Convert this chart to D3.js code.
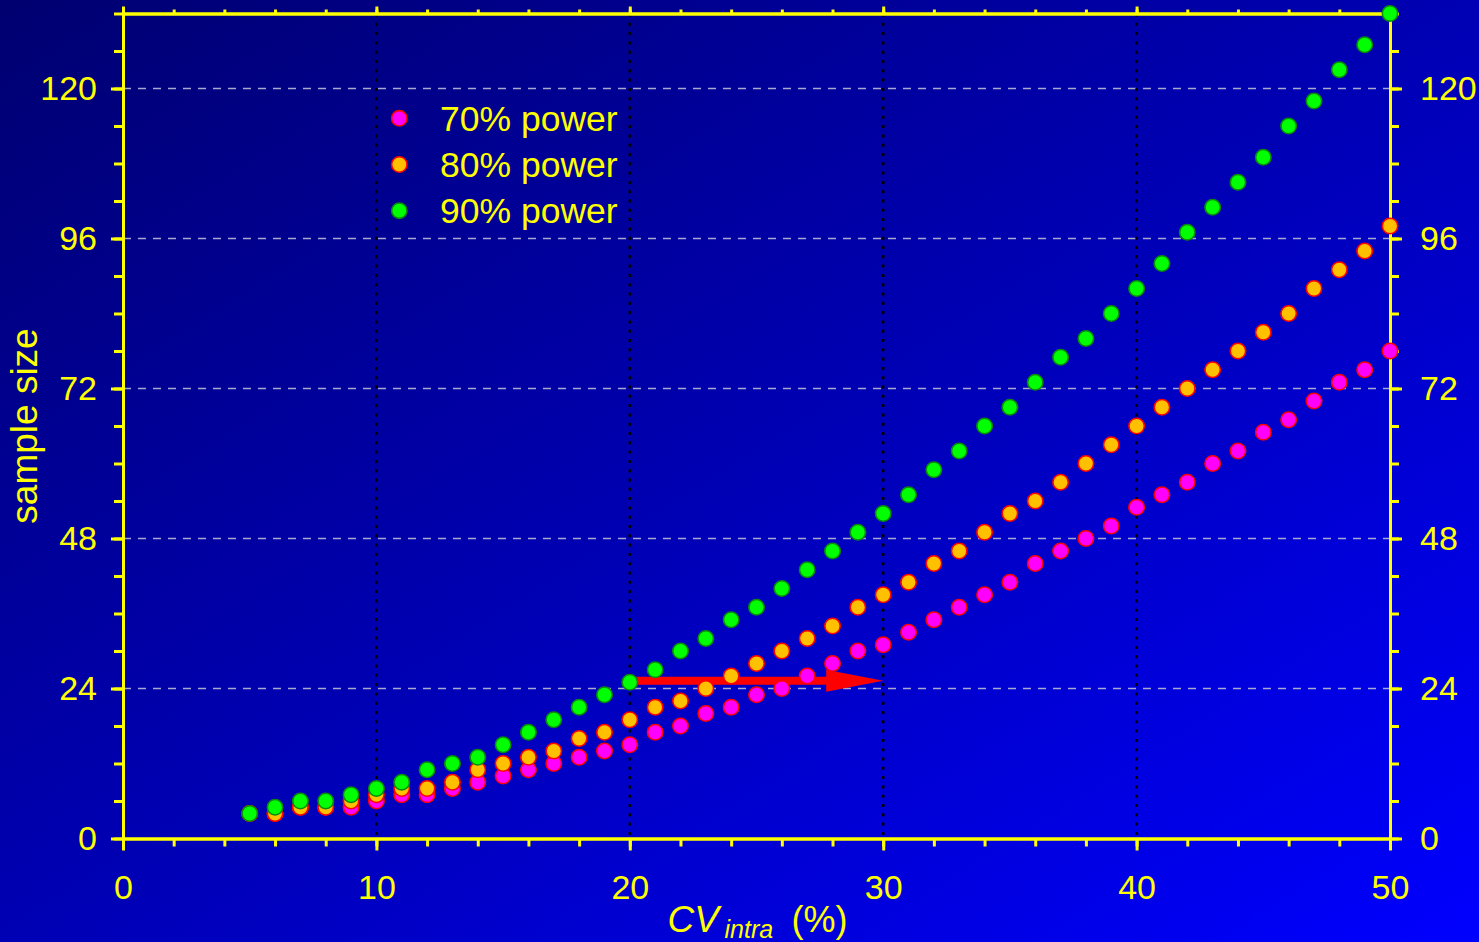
<!DOCTYPE html>
<html>
<head>
<meta charset="utf-8">
<script src="https://cdn.jsdelivr.net/npm/d3@7"></script>
<style>
  html, body { margin: 0; padding: 0; overflow: hidden; background: #00008a; }
  svg { display: block; }
  text { font-family: "Liberation Sans", Arial, sans-serif; fill: #ffff00; }
</style>
</head>
<body>
<svg id="chart" width="1479" height="942"></svg>
<script>
// ---------------- data ----------------
const cvValues = [5,6,7,8,9,10,11,12,13,14,15,16,17,18,19,20,21,22,23,24,25,26,27,28,29,30,31,32,33,34,35,36,37,38,39,40,41,42,43,44,45,46,47,48,49,50];
const power70 = [4,4,5,5,5,6,7,7,8,9,10,11,12,13,14,15,17,18,20,21,23,24,26,28,30,31,33,35,37,39,41,44,46,48,50,53,55,57,60,62,65,67,70,73,75,78];
const power80 = [4,4,5,5,6,7,8,8,9,11,12,13,14,16,17,19,21,22,24,26,28,30,32,34,37,39,41,44,46,49,52,54,57,60,63,66,69,72,75,78,81,84,88,91,94,98];
const power90 = [4,5,6,6,7,8,9,11,12,13,15,17,19,21,23,25,27,30,32,35,37,40,43,46,49,52,55,59,62,66,69,73,77,80,84,88,92,97,101,105,109,114,118,123,127,132];
const seriesNames = ["70% power", "80% power", "90% power"];
const xMajorTicks = [0,10,20,30,40,50];
const yMajorTicks = [0,24,48,72,96,120];
const xGridValues = [10,20,30,40];
const arrowFrom = [20, 25.25];
const arrowTo = [30, 25.25];

// ---------------- setup ----------------
const W = 1479, H = 942;
const svg = d3.select("#chart");
const defs = svg.append("defs");
const grad = defs.append("linearGradient").attr("id","bg")
  .attr("x1","0").attr("y1","0").attr("x2","1").attr("y2","1");
grad.append("stop").attr("offset","0").attr("stop-color","#000070");
grad.append("stop").attr("offset","0.5").attr("stop-color","#0000b4");
grad.append("stop").attr("offset","1").attr("stop-color","#0000ff");
svg.append("rect").attr("width",W).attr("height",H).attr("fill","url(#bg)");

const x = d3.scaleLinear().domain([0,50]).range([123,1390]);
const y = d3.scaleLinear().domain([0,132]).range([838.5,13.5]);

const colors = [
  {fill:"#ff00ff", stroke:"#ff0000"},
  {fill:"#ffc000", stroke:"#ff0000"},
  {fill:"#00ff00", stroke:"#0a8a0a"}
];
const allSeries = [power70, power80, power90];

// ---------------- grid ----------------
const grid = svg.append("g");
grid.selectAll("line.h").data(yMajorTicks.filter(d => d > 0)).join("line")
  .attr("x1", x(0)).attr("x2", x(50))
  .attr("y1", d => y(d)).attr("y2", d => y(d))
  .attr("stroke", "#a8a8d0").attr("stroke-width", 1.6)
  .attr("stroke-dasharray", "8,7");
grid.selectAll("line.v").data(xGridValues).join("line")
  .attr("x1", d => x(d)).attr("x2", d => x(d))
  .attr("y1", y(132)).attr("y2", y(0))
  .attr("stroke", "#000000").attr("stroke-width", 2.5)
  .attr("stroke-dasharray", "3,6.3");

// ---------------- axes ----------------
function styleAxis(g) {
  g.select(".domain").attr("stroke", "#ffff00").attr("stroke-width", 3);
  g.selectAll(".tick line").attr("stroke", "#ffff00").attr("stroke-width", 3);
  g.selectAll(".tick text").attr("fill", "#ffff00")
    .style("font-family", '"Liberation Sans", Arial, sans-serif')
    .style("font-size", "34px");
}
const xMinor = d3.range(0, 51, 2);
const yMinor = d3.range(0, 133, 6);

// bottom
svg.append("g").attr("transform", `translate(0,${y(0)})`)
  .call(d3.axisBottom(x).tickValues(xMinor).tickSize(8).tickFormat("").tickSizeOuter(0)).call(styleAxis);
svg.append("g").attr("transform", `translate(0,${y(0)})`)
  .call(d3.axisBottom(x).tickValues(xMajorTicks).tickSize(12).tickPadding(24).tickSizeOuter(0)).call(styleAxis);
// top
svg.append("g").attr("transform", `translate(0,${y(132)})`)
  .call(d3.axisTop(x).tickValues(xMinor).tickSize(4).tickFormat("").tickSizeOuter(0)).call(styleAxis);
svg.append("g").attr("transform", `translate(0,${y(132)})`)
  .call(d3.axisTop(x).tickValues(xMajorTicks).tickSize(7).tickFormat("").tickSizeOuter(0)).call(styleAxis);
// left
svg.append("g").attr("transform", `translate(${x(0)},0)`)
  .call(d3.axisLeft(y).tickValues(yMinor).tickSize(9).tickFormat("").tickSizeOuter(0)).call(styleAxis);
svg.append("g").attr("transform", `translate(${x(0)},0)`)
  .call(d3.axisLeft(y).tickValues(yMajorTicks).tickSize(12).tickPadding(14).tickSizeOuter(0)).call(styleAxis);
// right
svg.append("g").attr("transform", `translate(${x(50)},0)`)
  .call(d3.axisRight(y).tickValues(yMinor).tickSize(9).tickFormat("").tickSizeOuter(0)).call(styleAxis);
svg.append("g").attr("transform", `translate(${x(50)},0)`)
  .call(d3.axisRight(y).tickValues(yMajorTicks).tickSize(12).tickPadding(18).tickSizeOuter(0)).call(styleAxis);

// ---------------- arrow ----------------
const ax0 = x(arrowFrom[0]), ax1 = x(arrowTo[0]), ay = y(arrowFrom[1]);
const headLen = 57, headHalf = 11, shaftHalf = 4;
svg.append("path")
  .attr("d", `M${ax0},${ay - shaftHalf} L${ax1 - headLen},${ay - shaftHalf} L${ax1 - headLen},${ay - headHalf} L${ax1},${ay} L${ax1 - headLen},${ay + headHalf} L${ax1 - headLen},${ay + shaftHalf} L${ax0},${ay + shaftHalf} Z`)
  .attr("fill", "#ff0000");

// ---------------- points ----------------
allSeries.forEach((vals, i) => {
  svg.append("g").selectAll("circle").data(cvValues.map((c, j) => [c, vals[j]])).join("circle")
    .attr("cx", d => x(d[0])).attr("cy", d => y(d[1])).attr("r", 7.7)
    .attr("fill", colors[i].fill).attr("stroke", colors[i].stroke).attr("stroke-width", 1.6);
});

// ---------------- legend ----------------
const leg = svg.append("g");
seriesNames.forEach((name, i) => {
  const ly = 118.3 + i * 46.2;
  leg.append("circle").attr("cx", 399.3).attr("cy", ly).attr("r", 7.7)
    .attr("fill", colors[i].fill).attr("stroke", colors[i].stroke).attr("stroke-width", 1.6);
  leg.append("text").attr("x", 440).attr("y", ly).attr("dy", "0.35em")
    .style("font-size", "35.5px").text(name);
});

// ---------------- axis titles ----------------
svg.append("text")
  .attr("transform", `translate(37,${(y(0) + y(132)) / 2}) rotate(-90)`)
  .attr("text-anchor", "middle")
  .style("font-size", "37px")
  .text("sample size");

const xt = svg.append("text").attr("y", 932);
const cx0 = (x(0) + x(50)) / 2 - 89;
xt.append("tspan").attr("x", cx0).style("font-style", "italic").style("font-size", "37px").text("CV");
xt.append("tspan").attr("x", cx0 + 57).attr("dy", 6).style("font-style", "italic").style("font-size", "25px").text("intra");
xt.append("tspan").attr("x", cx0 + 124).attr("dy", -6).style("font-size", "36px").text("(%)");
</script>
</body>
</html>
